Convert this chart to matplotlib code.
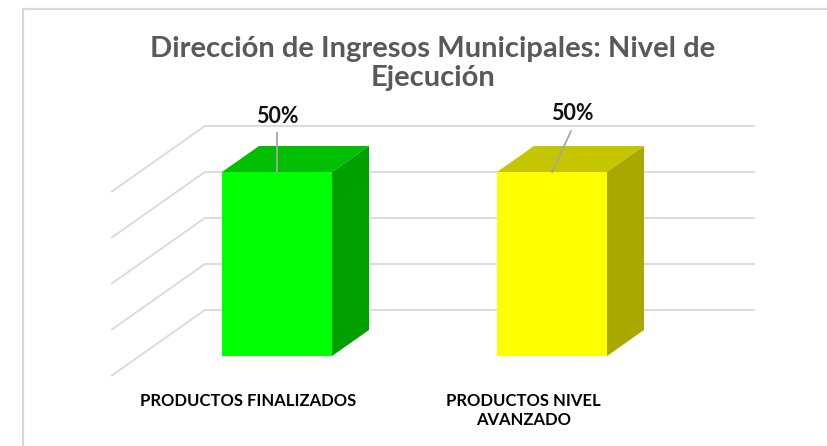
import matplotlib.pyplot as plt
from matplotlib.patches import Rectangle

# chart data
categorias = ["PRODUCTOS FINALIZADOS", "PRODUCTOS NIVEL\nAVANZADO"]
valores = [0.5, 0.5]
etiquetas = ["50%", "50%"]
color_frente = ["#00ff00", "#ffff00"]
color_tope = ["#00be00", "#c6c600"]
color_lado = ["#00a000", "#a8a800"]
rejilla = [0, 0.125, 0.25, 0.375, 0.5]

# fake 3D: one bar depth in data units
ancho = 0.4
prof_dx, prof_dy = 0.1345, 0.0707
hueco = 0.77  # gap bar -> walls, in bar depths

plt.rcParams['font.family'] = ['Lato', 'DejaVu Sans']

fig = plt.figure(figsize=(8.28, 4.46), dpi=100)
ax = fig.add_axes([0, 0, 1, 1])
ax.set_xlim(-1.0073, 2.0036)
ax.set_ylim(-0.2446, 0.9674)
ax.axis('off')

# chart border
fig.patches.append(Rectangle((23.5 / 828, -0.1), 1.1, 1.1 - 9 / 446, transform=fig.transFigure,
                             fill=False, edgecolor='#d9d9d9', linewidth=1.6, zorder=0))

# back wall + side wall gridlines
x0, x1 = -0.5, len(valores) - 0.5
pared_dx, pared_dy = (1 + hueco) * prof_dx, (1 + hueco) * prof_dy
frente_dx, frente_dy = -hueco * prof_dx, -hueco * prof_dy
for g in rejilla:
    ax.plot([x0 + pared_dx, x1 + pared_dx], [g + pared_dy, g + pared_dy],
            color='#d9d9d9', lw=1.3, zorder=1, solid_capstyle='butt')
    ax.plot([x0 + frente_dx, x0 + pared_dx], [g + frente_dy, g + pared_dy],
            color='#d9d9d9', lw=1.3, zorder=1, solid_capstyle='butt')

# bars (front face, top, side)
for i, v in enumerate(valores):
    ax.bar(i, v, width=ancho, color=color_frente[i], zorder=3, linewidth=0)
    l, r = i - ancho / 2, i + ancho / 2
    ax.fill([l, r, r + prof_dx, l + prof_dx], [v, v, v + prof_dy, v + prof_dy],
            color=color_tope[i], zorder=3, linewidth=0)
    ax.fill([r, r + prof_dx, r + prof_dx, r], [0, prof_dy, v + prof_dy, v],
            color=color_lado[i], zorder=3, linewidth=0)

# data labels with leader lines
pos_etiqueta = [(0.0, 0.15), (0.073, 0.158)]
fin_linea = [(0.0, 0.106), (0.069, 0.111)]
for i, v in enumerate(valores):
    ax.plot([i, i + fin_linea[i][0]], [v, v + fin_linea[i][1]], color='#a6a6a6', lw=1.3, zorder=4)
    ax.text(i + pos_etiqueta[i][0], v + pos_etiqueta[i][1], etiquetas[i], ha='center', va='center',
            fontsize=15.5, fontweight='bold', color='#111111', zorder=5)

# category labels at the front of the floor
for i, c in enumerate(categorias):
    ax.text(i + frente_dx, -0.1, c, ha='center', va='top', fontsize=12,
            fontweight='bold', color='black', linespacing=1.25)

fig.text(0.523, 0.857, "Dirección de Ingresos Municipales: Nivel de\nEjecución", ha='center', va='center',
         fontsize=21, fontweight='bold', color='#595959', linespacing=1.15)

fig.savefig('out.png', dpi=100)
